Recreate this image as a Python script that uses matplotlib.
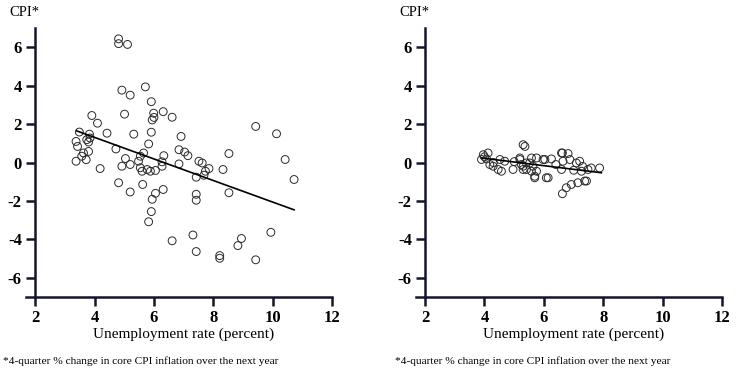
import matplotlib
matplotlib.use("Agg")
import matplotlib.pyplot as plt

plt.rcParams["font.family"] = ["Liberation Serif", "DejaVu Serif"]
plt.rcParams["axes.unicode_minus"] = False

# Left panel: unemployment rate vs. change in core CPI inflation
left_x = [4.81, 4.81, 5.11, 4.92, 5.20, 5.71, 5.91, 6.31, 5.99, 5.94, 6.00, 6.61,
          3.91, 4.10, 5.01, 4.42, 5.32, 5.91, 5.82, 3.49, 3.83, 3.85, 3.38, 3.43,
          3.74, 3.80, 3.63, 3.80, 3.57, 3.38, 3.72, 4.19, 4.72, 5.04, 4.92, 5.20,
          5.54, 5.65, 5.48, 5.54, 5.60, 5.77, 5.88, 6.05, 6.27, 6.33, 4.81, 5.20,
          5.62, 6.05, 5.94, 5.91, 5.82, 6.31, 6.91, 9.42, 10.12, 10.41, 10.71, 8.52,
          8.32, 8.52, 6.84, 7.03, 7.14, 6.84, 6.27, 7.51, 7.62, 7.85, 7.73, 7.68,
          7.42, 7.42, 7.42, 6.61, 7.31, 7.42, 8.21, 8.21, 8.94, 8.82, 9.93, 9.42]
left_y = [6.44, 6.19, 6.15, 3.77, 3.51, 3.94, 3.17, 2.65, 2.57, 2.22, 2.35, 2.36,
          2.45, 2.05, 2.52, 1.53, 1.48, 1.58, 0.97, 1.59, 1.48, 1.28, 1.10, 0.84,
          1.19, 1.07, 0.50, 0.58, 0.33, 0.07, 0.15, -0.31, 0.71, 0.21, -0.19, -0.10,
          0.33, 0.50, 0.07, -0.27, -0.45, -0.36, -0.45, -0.41, -0.19, 0.36, -1.05, -1.53,
          -1.14, -1.60, -1.91, -2.55, -3.08, -1.40, 1.36, 1.88, 1.50, 0.16, -0.88, 0.47,
          -0.36, -1.57, 0.67, 0.55, 0.36, -0.07, 0.04, 0.07, -0.02, -0.31, -0.45, -0.66,
          -0.76, -1.65, -1.96, -4.07, -3.77, -4.63, -4.84, -4.98, -3.95, -4.32, -3.63, -5.06]
left_fit_x = [3.40, 10.71]
left_fit_y = [1.65, -2.46]

# Right panel
right_x = [3.96, 4.12, 4.07, 3.90, 4.18, 4.46, 4.29, 4.68, 4.96, 5.19, 5.30, 5.41,
           5.58, 5.69, 5.52, 5.75, 6.03, 6.25, 6.08, 6.62, 6.64, 6.59, 6.87, 7.09,
           6.92, 6.75, 6.62, 4.52, 4.57, 5.19, 5.24, 5.30, 5.41, 5.58, 5.63, 5.75,
           5.69, 5.97, 6.14, 6.59, 6.81, 7.20, 7.26, 7.48, 7.59, 7.87, 7.37, 7.14,
           7.43, 5.30, 5.36, 4.00, 4.30, 5.00, 6.40, 7.30, 7.00]
right_y = [0.41, 0.50, 0.19, 0.16, -0.10, -0.36, -0.19, 0.07, -0.36, 0.16, -0.19, -0.36,
           -0.45, -0.79, -0.02, 0.24, 0.16, 0.19, -0.79, 0.50, 0.07, -0.36, 0.16, -0.02,
           -1.14, -1.31, -1.62, 0.16, -0.45, 0.24, -0.10, -0.36, -0.02, 0.24, -0.19, -0.45,
           -0.71, 0.16, -0.79, 0.50, 0.47, 0.07, -0.45, -0.36, -0.28, -0.28, -0.96, -1.05,
           -0.96, 0.93, 0.84, 0.30, 0.00, 0.05, -0.10, -0.20, -0.40]
right_fit_x = [3.90, 7.93]
right_fit_y = [0.24, -0.53]

x_ticks = [2, 4, 6, 8, 10, 12]
y_ticks = [-6, -4, -2, 0, 2, 4, 6]
ylabel = "CPI*"
xlabel = "Unemployment rate (percent)"
footnote = "*4-quarter % change in core CPI inflation over the next year"

AXIS_COLOR = "#15152e"

fig = plt.figure(figsize=(7.53, 3.77), dpi=100)
panels = [
    (0.0465, 0.013, 0.004, left_x, left_y, left_fit_x, left_fit_y),
    (0.5644, 0.530, 0.524, right_x, right_y, right_fit_x, right_fit_y),
]
for left, lab_x, foot_x, xs, ys, fx, fy in panels:
    ax = fig.add_axes([left, 0.212, 0.395, 0.7135])
    ax.scatter(xs, ys, s=32, facecolors="none", edgecolors="#2a2a2a",
               linewidths=0.7, zorder=2)
    ax.plot(fx, fy, color="black", lw=1.2, zorder=3)
    ax.set_xlim(2, 12)
    ax.set_ylim(-7, 7)
    ax.set_xticks(x_ticks)
    ax.set_yticks(y_ticks)
    for s in ["top", "right"]:
        ax.spines[s].set_visible(False)
    for s in ["left", "bottom"]:
        ax.spines[s].set_linewidth(1.8)
        ax.spines[s].set_color(AXIS_COLOR)
    ax.spines["bottom"].set_bounds(1.7, 12)
    ax.tick_params(direction="out", length=6.5, width=1.8, color=AXIS_COLOR,
                   labelsize=12, pad=3)
    for lab in ax.get_xticklabels() + ax.get_yticklabels():
        lab.set_fontweight("bold")
    ax.set_xlabel(xlabel, fontsize=11, labelpad=1)
    fig.text(lab_x, 0.968, ylabel, fontsize=10.5, ha="left", va="center")
    fig.text(foot_x, 0.042, footnote, fontsize=8.2, ha="left", va="center")

fig.savefig("out.png", dpi=100)
